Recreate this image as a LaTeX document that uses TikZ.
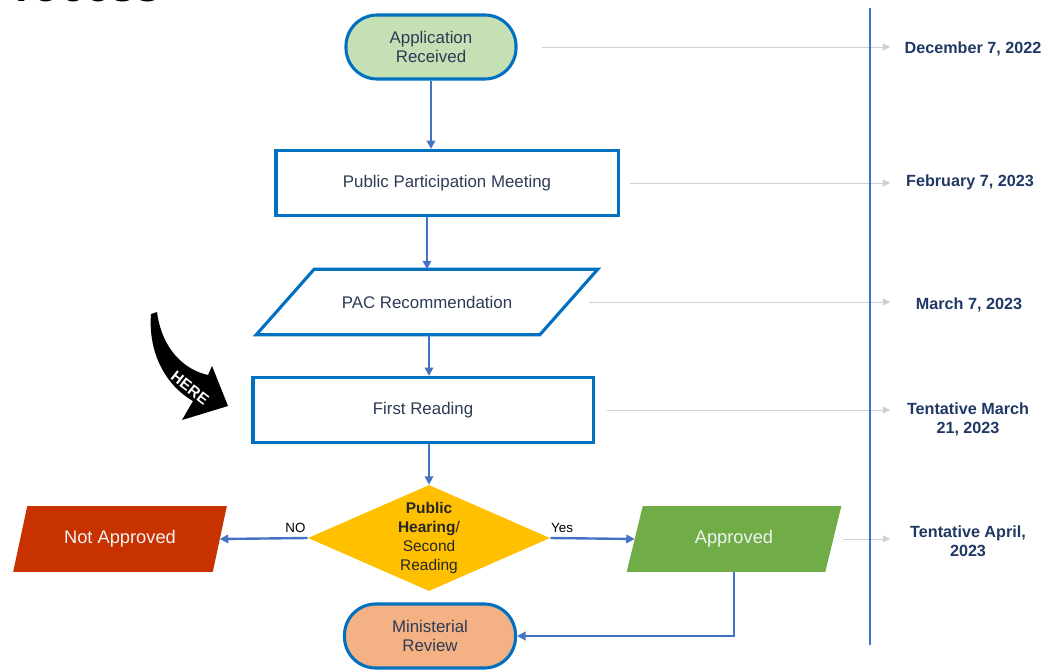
\documentclass[tikz,border=0pt]{standalone}
\usepackage{fontspec}
\setmainfont{Liberation Sans}
\usetikzlibrary{arrows.meta,shapes.geometric,backgrounds}

\definecolor{boxblue}{HTML}{0070C0}
\definecolor{arrowblue}{HTML}{4472C4}
\definecolor{boxtext}{HTML}{2E3B55}
\definecolor{datenavy}{HTML}{1F3864}
\definecolor{linegray}{HTML}{D0D0D0}
\definecolor{startgreen}{HTML}{C5E0B4}
\definecolor{endorange}{HTML}{F4B183}
\definecolor{heargold}{HTML}{FFC000}
\definecolor{notred}{HTML}{C83200}
\definecolor{okgreen}{HTML}{70AD47}

\newcommand{\boxfont}{\fontsize{12}{13.5}\selectfont}
\newcommand{\datefont}{\bfseries\fontsize{11.5}{13.5}\selectfont}

\tikzset{
  flow/.style={-{Triangle[length=6pt,width=6pt]}, line width=1.7pt, draw=arrowblue},
  dateline/.style={-{Triangle[length=5pt,width=5pt]}, line width=0.6pt, draw=linegray, color=linegray},
  datetext/.style={font=\datefont, text=datenavy, align=center},
  stadium/.style={draw=boxblue, line width=2.2pt, rounded corners=0.78cm,
    minimum width=4.25cm, minimum height=1.6cm, align=center, text=boxtext, font=\boxfont},
  stepbox/.style={draw=boxblue, line width=2.2pt, fill=white,
    minimum width=8.55cm, minimum height=1.625cm, text=boxtext, font=\boxfont},
  parabox/.style={minimum height=1.625cm, inner sep=0pt, align=center},
}

\begin{document}
\begin{tikzpicture}[x=0.025cm, y=-0.025cm]
  \useasboundingbox (0,0) rectangle (1052,670);

  % cut-off title
  \node[anchor=base west, inner sep=0pt, font=\bfseries\fontsize{32}{32}\selectfont] (title) at (-15,2) {Process};

  % flow nodes
  \node[stadium, fill=startgreen] (app) at (431,47) {Application\\Received};
  \node[stepbox] (ppm) at (447,183) {Public Participation Meeting};
  \node[parabox, minimum width=7.075cm, text=boxtext, font=\boxfont] (pac) at (427,302) {PAC Recommendation};
  \node[stepbox, minimum width=8.5cm] (first) at (423,410) {First Reading};
  \node[diamond, fill=heargold, inner sep=0pt, minimum width=6.05cm, minimum height=2.65cm] (hear) at (429,538) {};
  \node[align=center, font=\fontsize{11}{13.5}\selectfont, text=black!85] (hearText) at (hear.center)
       {\textbf{Public}\\\textbf{Hearing}/\\Second\\Reading};
  \node[parabox, minimum width=4.975cm, text=white!95!black, font=\fontsize{13}{15}\selectfont] (notap) at (120,539) {Not Approved};
  \node[parabox, minimum width=4.95cm, text=white!95!black, font=\fontsize{13}{15}\selectfont] (appr) at (734,539) {Approved};
  \node[stadium, fill=endorange, minimum width=4.275cm] (minrev) at (430,636) {Ministerial\\Review};

  % parallelogram outlines
  \begin{scope}[on background layer]
    \draw[boxblue, line width=2.2pt, fill=white]
      ([xshift=0.725cm]pac.north west) -- ([xshift=0.725cm]pac.north east)
      -- ([xshift=-0.725cm]pac.south east) -- ([xshift=-0.725cm]pac.south west) -- cycle;
    \fill[notred]
      ([xshift=0.175cm]notap.north west) -- ([xshift=0.175cm]notap.north east)
      -- ([xshift=-0.175cm]notap.south east) -- ([xshift=-0.175cm]notap.south west) -- cycle;
    \fill[okgreen]
      ([xshift=0.2cm]appr.north west) -- ([xshift=0.2cm]appr.north east)
      -- ([xshift=-0.2cm]appr.south east) -- ([xshift=-0.2cm]appr.south west) -- cycle;
  \end{scope}

  % flow arrows
  \draw[flow] (app.south) -- (app.south |- ppm.north);
  \draw[flow] (pac.north |- ppm.south) -- (pac.north);
  \draw[flow] (hear.north |- pac.south) -- (hear.north |- first.north);
  \draw[flow] (hear.north |- first.south) -- (hear.north);
  \draw[flow] (hear.west) -- node[above, pos=0.14, font=\fontsize{9.5}{11}\selectfont] (noLabel) {NO} (notap.east);
  \draw[flow] (hear.east) -- node[above, pos=0.14, font=\fontsize{9.5}{11}\selectfont] (yesLabel) {Yes} (appr.west);
  \draw[flow] (appr.south) |- (minrev.east);

  % dates
  \node[datetext] (dec) at (973,49) {December 7, 2022};
  \node[datetext] (feb) at (970,182) {February 7, 2023};
  \node[datetext] (mar) at (969,305) {March 7, 2023};
  \node[datetext] (marT) at (968,419) {Tentative March\\21, 2023};
  \node[datetext] (aprT) at (968,541) {Tentative April,\\2023};

  \coordinate (datetip) at (890,0);
  \draw[dateline] ([xshift=0.6cm]app.east) -- (app.east -| datetip);
  \draw[dateline] ([xshift=0.25cm]ppm.east) -- (ppm.east -| datetip);
  \draw[dateline] ([xshift=0.5cm]pac.east) -- (pac.east -| datetip);
  \draw[dateline] ([xshift=0.3cm]first.east) -- (first.east -| datetip);
  \draw[dateline] ([xshift=0.25cm]appr.east) -- (appr.east -| datetip);

  % timeline
  \coordinate (lineTop) at (870,8);
  \coordinate (lineBot) at (870,645);
  \draw[arrowblue, line width=1pt] (lineTop) -- (lineBot);

  % HERE marker
  \fill[black] (151,314) .. controls (148,352) and (165,385) .. (193,401) -- (182,420)
    -- (228,406) -- (212,366) -- (208,375) .. controls (185,370) and (162,350) .. (157,312) -- cycle;
  \node[rotate=-38, inner sep=0pt, text=white, font=\bfseries\fontsize{11}{12}\selectfont] (here) at (190,388) {HERE};
\end{tikzpicture}
\end{document}
